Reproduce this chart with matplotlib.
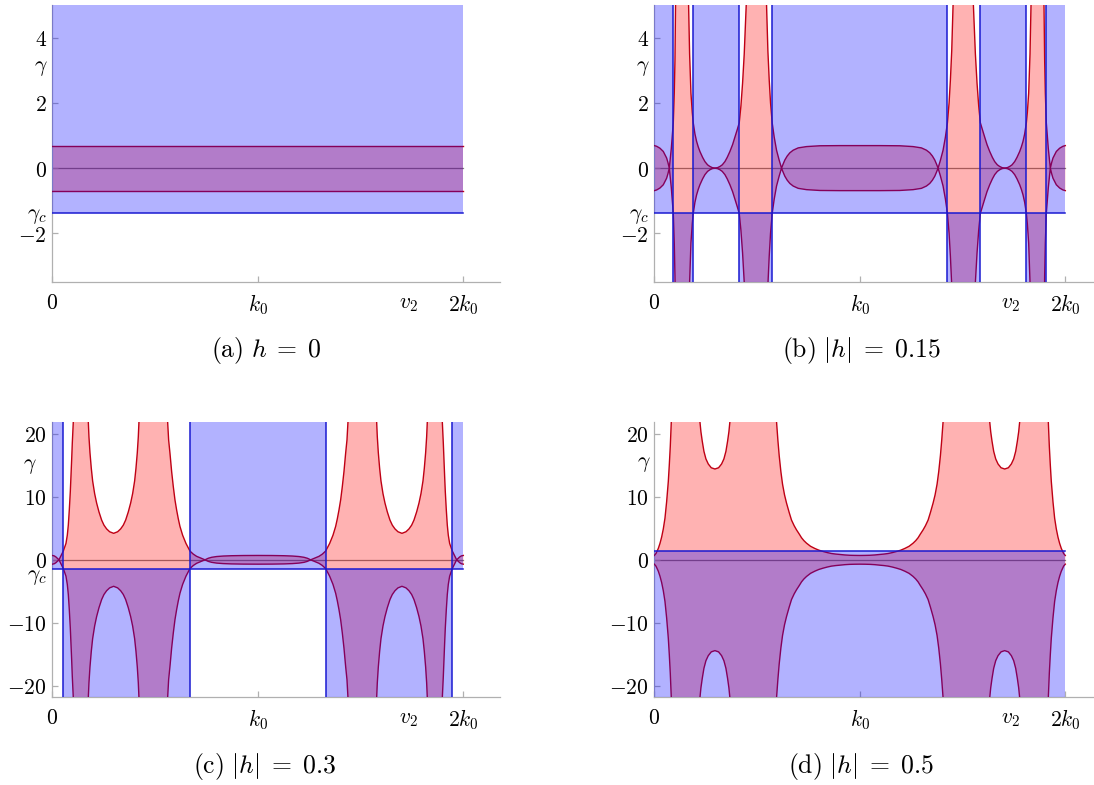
import numpy as np
import matplotlib.pyplot as plt

plt.rcParams['mathtext.fontset'] = 'cm'
plt.rcParams['font.family'] = 'serif'

# common values
gamma_c = -1.386
v2 = 1.735
g_flat = 0.693   # half width of the band in (a)

# panel (b): half width of the red region, k from 0 to k0 (mirrored about k0)
k_b = [0.0, 0.0113, 0.0276, 0.0438, 0.0600, 0.0665, 0.0729, 0.0827, 0.0924, 0.0972,
       0.1005, 0.1037, 0.1086, 0.1605, 0.1669, 0.1718, 0.1783, 0.1848, 0.1896, 0.1977,
       0.2058, 0.2139, 0.2220, 0.2350, 0.2464, 0.2593, 0.2707, 0.2820, 0.2950, 0.3079,
       0.3193, 0.3306, 0.3436, 0.3549, 0.3679, 0.3809, 0.3938, 0.4036, 0.4133, 0.4214,
       0.4295, 0.4376, 0.4473, 0.4538, 0.5397, 0.5462, 0.5527, 0.5592, 0.5656, 0.5737,
       0.5835, 0.5948, 0.6078, 0.6191, 0.6272, 0.6353, 0.6467, 0.6596, 0.6759, 0.7002,
       0.7407, 0.8055, 0.9027, 1.0]
g_b = [0.69, 0.67, 0.61, 0.51, 0.31, 0.17, 0.0, 0.6, 1.386, 2.3,
       3.3, 5.0, 99, 99, 5.0, 3.5, 2.3, 1.7, 1.386, 1.05,
       0.82, 0.65, 0.51, 0.33, 0.2, 0.1, 0.05, 0.015, 0.0, 0.015,
       0.05, 0.1, 0.2, 0.33, 0.51, 0.72, 0.98, 1.18, 1.386, 1.9,
       2.6, 3.5, 5.0, 99, 99, 5.0, 3.6, 2.7, 2.0, 1.386,
       0.95, 0.55, 0.24, 0.0, 0.13, 0.25, 0.37, 0.47, 0.55, 0.62,
       0.66, 0.685, 0.69, 0.69]
strips_b = [(0.0924, 0.1896), (0.4133, 0.5737), (1.4263, 1.5867), (1.8104, 1.9076)]

# panel (c)
k_c = [0.0, 0.0097, 0.0178, 0.0243, 0.0324, 0.0422, 0.0535, 0.0600, 0.0665, 0.0730,
       0.0779, 0.0827, 0.0876, 0.0908, 0.0941, 0.0973, 0.1022, 0.1071, 0.1719, 0.1752,
       0.1784, 0.1833, 0.1898, 0.1963, 0.2060, 0.2157, 0.2271, 0.2401, 0.2514, 0.2644,
       0.2790, 0.2985, 0.3179, 0.3325, 0.3455, 0.3569, 0.3698, 0.3812, 0.3909, 0.4006,
       0.4071, 0.4136, 0.4185, 0.4217, 0.4250, 0.5580, 0.5612, 0.5661, 0.5726, 0.5807,
       0.5888, 0.5969, 0.6050, 0.6131, 0.6212, 0.6342, 0.6504, 0.6602, 0.6699, 0.6861,
       0.7024, 0.7218, 0.7429, 0.7591, 0.7754, 0.7997, 0.8321, 0.8727, 0.9294, 1.0]
g_c = [0.69, 0.62, 0.45, 0.25, 0.0, 0.65, 1.386, 2.0, 2.6, 3.9,
       5.5, 7.9, 10.8, 13.2, 15.8, 18.5, 21.9, 99, 99, 21.9,
       19.5, 17.0, 14.5, 12.5, 10.5, 9.0, 7.6, 6.3, 5.5, 4.9,
       4.45, 4.2, 4.45, 4.9, 5.5, 6.3, 7.6, 9.0, 10.5, 12.5,
       14.5, 17.0, 19.5, 21.9, 99, 99, 21.9, 19.0, 16.9, 14.0,
       11.6, 9.5, 7.9, 6.5, 5.3, 3.9, 2.6, 2.0, 1.386, 0.9,
       0.55, 0.28, 0.0, 0.25, 0.4, 0.52, 0.6, 0.65, 0.68, 0.69]
strips_c = [(0.0535, 0.6699), (1.3301, 1.9465)]

# panel (d)
k_d = [0.0, 0.0081, 0.0194, 0.0276, 0.0357, 0.0438, 0.0519, 0.0600, 0.0681, 0.0729,
       0.0778, 0.0827, 0.0875, 0.2172, 0.2220, 0.2269, 0.2334, 0.2415, 0.2512, 0.2626,
       0.2771, 0.2950, 0.3128, 0.3274, 0.3387, 0.3485, 0.3566, 0.3630, 0.3679, 0.3728,
       0.5900, 0.5948, 0.6013, 0.6078, 0.6159, 0.6240, 0.6337, 0.6434, 0.6564, 0.6677,
       0.6807, 0.6920, 0.7050, 0.7164, 0.7277, 0.7407, 0.7601, 0.7812, 0.8006, 0.8217,
       0.8412, 0.8622, 0.8833, 0.9027, 0.9271, 0.9514, 0.9757, 1.0]
g_d = [0.69, 1.0, 1.8, 2.6, 3.6, 4.9, 6.6, 9.2, 12.4, 15.0,
       18.0, 21.9, 99, 99, 21.9, 20.3, 18.8, 17.2, 16.0, 15.2,
       14.6, 14.4, 14.6, 15.2, 16.0, 17.2, 18.8, 20.3, 21.9, 99,
       99, 21.9, 19.0, 16.5, 14.0, 12.0, 10.3, 9.0, 7.5, 6.3,
       5.4, 4.75, 4.1, 3.5, 3.05, 2.64, 2.15, 1.8, 1.53, 1.32,
       1.15, 1.0, 0.91, 0.85, 0.77, 0.72, 0.70, 0.69]
gamma_d = 1.386

RED = (0.75, 0.0, 0.08)
BLUE = (0.1, 0.1, 0.82)
SPINE = '#b0b0b0'


def mirror(k, g):
    k = np.array(k)
    g = np.array(g)
    return np.concatenate([k, 2 - k[::-1]]), np.concatenate([g, g[::-1]])


def setup(ax, ylo, yhi, yticks, ylabels):
    ax.set_xlim(0, 2.18)
    ax.set_ylim(ylo, yhi)
    for s in ['top', 'right']:
        ax.spines[s].set_visible(False)
    for s in ['left', 'bottom']:
        ax.spines[s].set_color(SPINE)
        ax.spines[s].set_linewidth(0.9)
    ax.set_xticks([0, 1, 2])
    ax.set_xticklabels([r'$0$', r'$k_0$', r'$2k_0$'])
    ax.set_xticks([v2], minor=True)
    ax.set_xticklabels([r'$v_2$'], minor=True)
    ax.set_yticks(yticks)
    ax.set_yticklabels(ylabels)
    ax.tick_params(axis='both', which='major', direction='in', color=SPINE,
                   length=4, width=0.9, labelsize=15.5)
    ax.tick_params(axis='x', which='both', pad=7, labelsize=15.5)
    ax.tick_params(axis='x', which='minor', length=0)
    ax.tick_params(axis='y', pad=4)


def draw(ax, k, g, ylo, yhi, gc, strips=None):
    ax.plot([0, 2], [0, 0], color='gray', lw=0.9, zorder=1)
    ax.fill_between(k, -g, g, color='red', alpha=0.3, lw=0, zorder=2)
    ax.plot(k, g, color=RED, lw=1.0, zorder=3)
    ax.plot(k, -g, color=RED, lw=1.0, zorder=3)
    if strips is None:
        ax.fill_between([0, 2], ylo, gc, color='blue', alpha=0.3, lw=0, zorder=4)
    else:
        edges = [0] + [e for s in strips for e in s] + [2]
        for a, b in zip(edges[0::2], edges[1::2]):
            ax.fill_between([a, b], gc, yhi, color='blue', alpha=0.3, lw=0, zorder=4)
        for a, b in strips:
            ax.fill_between([a, b], ylo, gc, color='blue', alpha=0.3, lw=0, zorder=4)
        for x in edges[1:-1]:
            ax.plot([x, x], [ylo, yhi], color=BLUE, lw=1.1, zorder=5)
    ax.plot([0, 2], [gc, gc], color=BLUE, lw=1.1, zorder=5)


fig = plt.figure(figsize=(10.94, 7.85), dpi=100)
W, H = 1094.0, 785.0


def make_ax(left, top, bottom):
    return fig.add_axes([left / W, 1 - bottom / H, 448 / W, (bottom - top) / H])


ax_a = make_ax(52.3, 5, 282.3)
ax_b = make_ax(654.3, 5, 282.3)
ax_c = make_ax(52.3, 421.7, 697.3)
ax_d = make_ax(654.3, 421.7, 697.3)

top_ticks = [-2, 0, 2, 4]
top_labels = [r'$-2$', r'$0$', r'$2$', r'$4$']
bot_ticks = [-20, -10, 0, 10, 20]
bot_labels = [r'$-20$', r'$-10$', r'$0$', r'$10$', r'$20$']

# (a)
setup(ax_a, -3.5, 5.0, top_ticks, top_labels)
draw(ax_a, np.array([0, 2]), np.array([g_flat, g_flat]), -3.5, 5.0, gamma_c, strips=[])

# (b)
kb, gb = mirror(k_b, g_b)
setup(ax_b, -3.5, 5.0, top_ticks, top_labels)
draw(ax_b, kb, gb, -3.5, 5.0, gamma_c, strips=strips_b)

# (c)
kc, gc_ = mirror(k_c, g_c)
setup(ax_c, -21.8, 21.9, bot_ticks, bot_labels)
draw(ax_c, kc, gc_, -21.8, 21.9, gamma_c, strips=strips_c)

# (d)
kd, gd = mirror(k_d, g_d)
setup(ax_d, -21.8, 21.9, bot_ticks, bot_labels)
draw(ax_d, kd, gd, -21.8, 21.9, gamma_d)

# gamma labels
for ax, x, y in [(ax_a, -0.055, 3.1), (ax_b, -0.055, 3.1), (ax_c, -0.108, 15.0), (ax_d, -0.05, 15.3)]:
    ax.text(x, y, r'$\gamma$', fontsize=15.5, ha='center', va='center', clip_on=False)
for ax in [ax_a, ax_b]:
    ax.text(-0.027, gamma_c - 0.05, r'$\gamma_c$', fontsize=15.5, ha='right', va='center', clip_on=False)
ax_c.text(-0.027, gamma_c - 1.2, r'$\gamma_c$', fontsize=15.5, ha='right', va='center', clip_on=False)

# captions
caps = [(266, 350, r'$\mathrm{(a)}\ h\;=\;0$'), (861, 350, r'$\mathrm{(b)}\ |h|\;=\;0.15$'),
        (265, 766, r'$\mathrm{(c)}\ |h|\;=\;0.3$'), (861, 766, r'$\mathrm{(d)}\ |h|\;=\;0.5$')]
for x, y, s in caps:
    fig.text(x / W, 1 - y / H, s, fontsize=18.5, ha='center', va='center')

fig.savefig('out.png', dpi=100)
